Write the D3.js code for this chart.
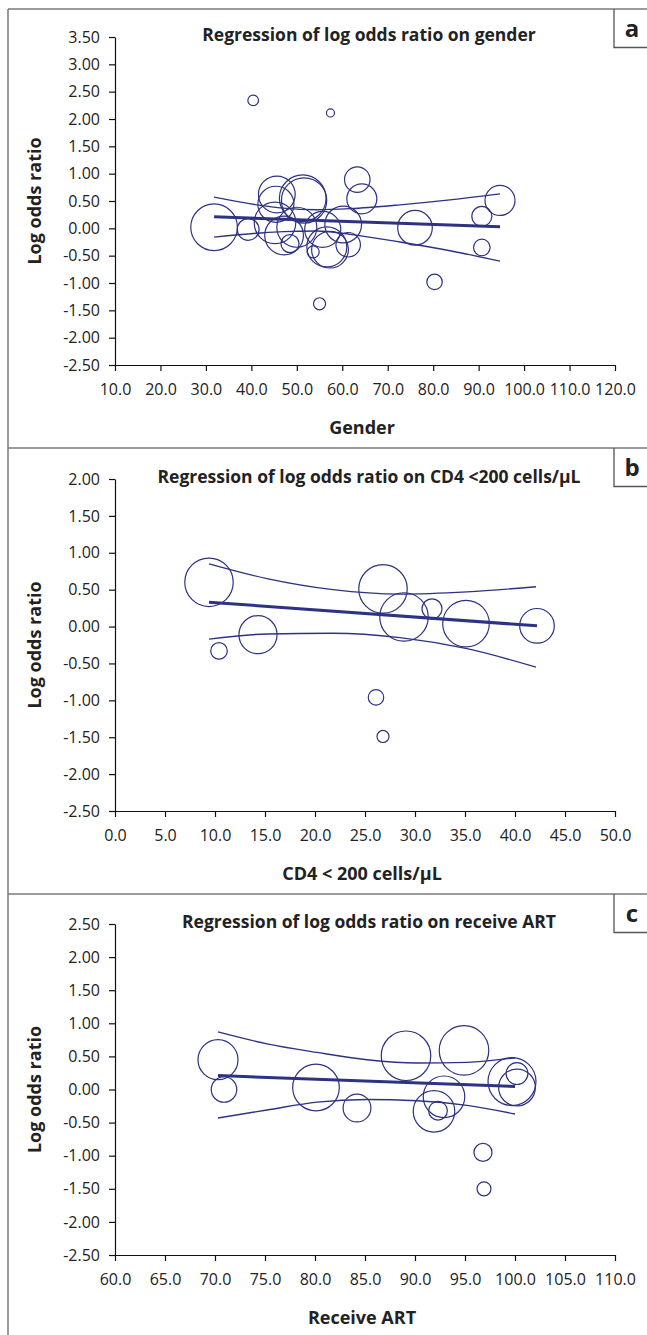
<!doctype html>
<html>
<head>
<script src="https://d3js.org/d3.v7.min.js"></script>
<style>
  body { margin: 0; background: #fff; }
  text { font-family: "Open Sans", sans-serif; fill: #222; }
</style>
</head>
<body>
<svg width="647" height="1335"></svg>
<script>
// ---- panel a: gender ----
var genderX   = [40.4, 57.4, 31.8, 39.3, 45.6, 45.4, 45.2, 47.2, 48.5, 51.3, 51.6, 50.0, 55.7, 53.6, 56.6, 57.3, 60.2, 61.3, 63.3, 64.3, 76.0, 90.7, 90.7, 94.7, 80.3, 55.0];
var genderLor = [2.34, 2.11, 0.02, -0.02, 0.62, 0.44, 0.10, -0.13, -0.28, 0.55, 0.51, 0.02, -0.02, -0.43, -0.34, -0.39, 0.07, -0.30, 0.89, 0.54, 0.01, 0.22, -0.35, 0.51, -0.98, -1.38];
var genderW   = [4.5, 2.6, 87, 19, 54, 52, 69, 60, 13, 87, 82, 64, 52, 5.8, 64, 54, 54, 24, 26, 36, 48, 16, 11, 36, 9.5, 5.8];
var genderFitX = [31.8, 94.7];
var genderFitY = [0.21, 0.03];
var genderCiX  = [31.8, 41.2, 47.0, 54.4, 61.7, 72.7, 83.7, 94.7];
var genderUpper = [0.57, 0.43, 0.37, 0.34, 0.36, 0.43, 0.52, 0.63];
var genderLower = [-0.16, -0.09, -0.06, -0.05, -0.11, -0.25, -0.41, -0.60];
var genderXTicks = ["10.0", "20.0", "30.0", "40.0", "50.0", "60.0", "70.0", "80.0", "90.0", "100.0", "110.0", "120.0"];
var genderYTicks = ["3.50", "3.00", "2.50", "2.00", "1.50", "1.00", "0.50", "0.00", "-0.50", "-1.00", "-1.50", "-2.00", "-2.50"];

// ---- panel b: CD4 < 200 ----
var cd4X   = [9.4, 10.4, 14.3, 26.8, 28.9, 31.7, 35.1, 42.2, 26.1, 26.8];
var cd4Lor = [0.60, -0.33, -0.11, 0.51, 0.13, 0.24, 0.04, 0.01, -0.96, -1.49];
var cd4W   = [94, 11, 58, 94, 94, 16, 87, 48, 9.5, 5.8];
var cd4FitX = [9.4, 42.2];
var cd4FitY = [0.33, 0.01];
var cd4CiX  = [9.4, 15.2, 21.8, 28.5, 35.2, 42.1];
var cd4Upper = [0.85, 0.65, 0.50, 0.44, 0.47, 0.54];
var cd4Lower = [-0.17, -0.10, -0.09, -0.15, -0.30, -0.55];
var cd4XTicks = ["0.0", "5.0", "10.0", "15.0", "20.0", "25.0", "30.0", "35.0", "40.0", "45.0", "50.0"];
var cd4YTicks = ["2.00", "1.50", "1.00", "0.50", "0.00", "-0.50", "-1.00", "-1.50", "-2.00", "-2.50"];

// ---- panel c: receive ART ----
var artX   = [70.3, 70.9, 80.1, 84.2, 89.1, 94.9, 92.9, 91.9, 92.3, 99.7, 100.2, 100.2, 96.8, 96.9];
var artLor = [0.45, 0.00, 0.03, -0.28, 0.51, 0.59, -0.11, -0.33, -0.32, 0.12, 0.24, 0.03, -0.95, -1.50];
var artW   = [64, 26, 87, 31, 98, 98, 69, 69, 14, 92, 19, 54, 13, 7.8];
var artFitX = [70.3, 100.0];
var artFitY = [0.21, 0.045];
var artCiX  = [70.3, 75.2, 80.2, 85.2, 90.2, 95.2, 100.0];
var artUpper = [0.87, 0.69, 0.56, 0.45, 0.40, 0.41, 0.48];
var artLower = [-0.43, -0.31, -0.19, -0.15, -0.17, -0.24, -0.37];
var artXTicks = ["60.0", "65.0", "70.0", "75.0", "80.0", "85.0", "90.0", "95.0", "100.0", "105.0", "110.0"];
var artYTicks = ["2.50", "2.00", "1.50", "1.00", "0.50", "0.00", "-0.50", "-1.00", "-1.50", "-2.00", "-2.50"];

var svg = d3.select("svg");
var navy = "#2e3282";
var frame = "#7a7a7a";
var left = 115, right = 615;

var rScale = d3.scaleSqrt().domain([0, 100]).range([0, 25]);

var panels = [
  { letter: "a", boxTop: 9, top: 37, bottom: 365,
    title: "Regression of log odds ratio on gender", xTitle: "Gender",
    xs: genderX, ys: genderLor, ws: genderW, fitX: genderFitX, fitY: genderFitY,
    ciX: genderCiX, upper: genderUpper, lower: genderLower,
    xTicks: genderXTicks, yTicks: genderYTicks },
  { letter: "b", boxTop: 448, top: 479, bottom: 811,
    title: "Regression of log odds ratio on CD4 <200 cells/\u00b5L", xTitle: "CD4 < 200 cells/\u00b5L",
    xs: cd4X, ys: cd4Lor, ws: cd4W, fitX: cd4FitX, fitY: cd4FitY,
    ciX: cd4CiX, upper: cd4Upper, lower: cd4Lower,
    xTicks: cd4XTicks, yTicks: cd4YTicks },
  { letter: "c", boxTop: 894, top: 924, bottom: 1255,
    title: "Regression of log odds ratio on receive ART", xTitle: "Receive ART",
    xs: artX, ys: artLor, ws: artW, fitX: artFitX, fitY: artFitY,
    ciX: artCiX, upper: artUpper, lower: artLower,
    xTicks: artXTicks, yTicks: artYTicks }
];

// outer frame
svg.append("line").attr("x1", 8).attr("x2", 8).attr("y1", 9).attr("y2", 1335)
   .attr("stroke", frame).attr("stroke-width", 1.5);

panels.forEach(function(p) {
  var xVals = p.xTicks.map(Number), yVals = p.yTicks.map(Number);
  var x = d3.scaleLinear().domain(d3.extent(xVals)).range([left, right]);
  var y = d3.scaleLinear().domain(d3.extent(yVals)).range([p.bottom, p.top]);
  var g = svg.append("g");

  // panel separator + letter box
  g.append("line").attr("x1", 8).attr("x2", 647).attr("y1", p.boxTop).attr("y2", p.boxTop)
   .attr("stroke", frame).attr("stroke-width", 1.5);
  g.append("path")
   .attr("d", "M614," + p.boxTop + "V" + (p.boxTop + 38.5) + "H647")
   .attr("fill", "none").attr("stroke", "#555").attr("stroke-width", 1.3);
  g.append("text").attr("x", 632).attr("y", p.boxTop + 28)
   .attr("text-anchor", "middle").attr("font-size", "24px").attr("font-weight", "bold")
   .text(p.letter);

  // axes
  var xAxis = g.append("g").attr("transform", "translate(0," + p.bottom + ")")
    .call(d3.axisBottom(x).tickValues(xVals).tickFormat(function(d, i) { return p.xTicks[i]; })
      .tickSizeInner(6).tickSizeOuter(0).tickPadding(13));
  var yAxis = g.append("g").attr("transform", "translate(" + left + ",0)")
    .call(d3.axisLeft(y).tickValues(yVals).tickFormat(function(d, i) { return p.yTicks[i]; })
      .tickSizeInner(6).tickSizeOuter(0).tickPadding(9));
  [xAxis, yAxis].forEach(function(a) {
    a.selectAll("path, line").attr("stroke", "#111").attr("stroke-width", 1.2);
    a.selectAll("text").attr("font-size", "16px").attr("fill", "#222")
     .style("font-family", "'Open Sans', sans-serif");
  });

  // titles
  g.append("text").attr("x", 369).attr("y", p.top + 4)
   .attr("text-anchor", "middle").attr("font-size", "17.5px").attr("font-weight", "bold")
   .text(p.title);
  g.append("text").attr("x", 362).attr("y", p.bottom + 69)
   .attr("text-anchor", "middle").attr("font-size", "18px").attr("font-weight", "bold")
   .text(p.xTitle);
  g.append("text")
   .attr("transform", "translate(41," + ((p.top + p.bottom) / 2) + ") rotate(-90)")
   .attr("text-anchor", "middle").attr("font-size", "18px").attr("font-weight", "bold")
   .text("Log odds ratio");

  // bubbles
  var pts = p.xs.map(function(v, i) { return { x: v, y: p.ys[i], w: p.ws[i] }; });
  g.selectAll("circle.bubble").data(pts).enter().append("circle")
   .attr("class", "bubble")
   .attr("cx", function(d) { return x(d.x); })
   .attr("cy", function(d) { return y(d.y); })
   .attr("r", function(d) { return rScale(d.w); })
   .attr("fill", "none").attr("stroke", navy).attr("stroke-width", 1.2);

  // confidence bands
  var band = d3.line().x(function(d) { return x(d[0]); }).y(function(d) { return y(d[1]); })
               .curve(d3.curveMonotoneX);
  [p.upper, p.lower].forEach(function(arr) {
    g.append("path").datum(p.ciX.map(function(v, i) { return [v, arr[i]]; }))
     .attr("d", band).attr("fill", "none").attr("stroke", navy).attr("stroke-width", 1.4);
  });

  // fitted line
  g.append("path").datum(p.fitX.map(function(v, i) { return [v, p.fitY[i]]; }))
   .attr("d", d3.line().x(function(d) { return x(d[0]); }).y(function(d) { return y(d[1]); }))
   .attr("fill", "none").attr("stroke", navy).attr("stroke-width", 3);
});
</script>
</body>
</html>
